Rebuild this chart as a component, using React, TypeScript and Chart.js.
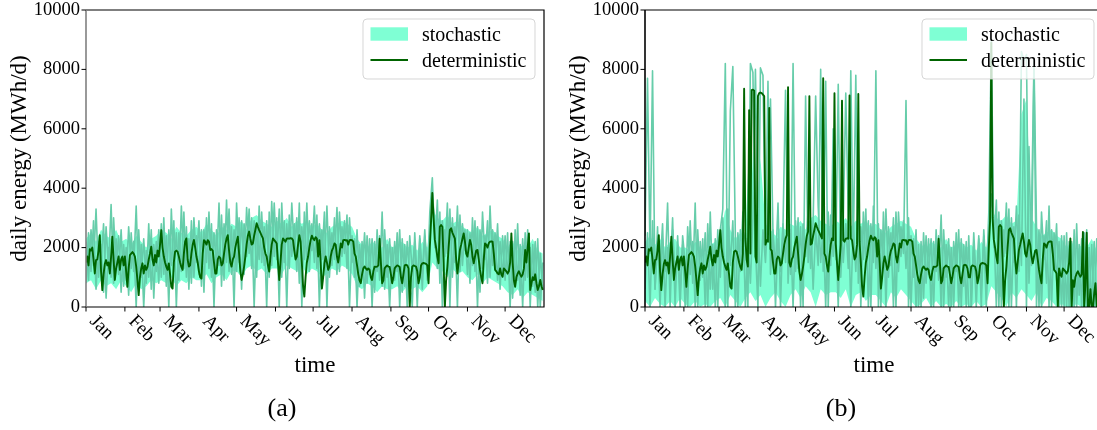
import React, { useEffect, useRef } from "react";
import { Chart, registerables } from "chart.js";

Chart.register(...registerables);

const FONT = "'Liberation Serif', 'Times New Roman', serif";

const MONTHS = ["Jan", "Feb", "Mar", "Apr", "May", "Jun", "Jul", "Aug", "Sep", "Oct", "Nov", "Dec"];
const MONTH_START_DAYS = [0, 31, 59, 90, 120, 151, 181, 212, 243, 273, 304, 334];
const Y_TICKS = [0, 2000, 4000, 6000, 8000, 10000];

// ---------- panel (a) ----------
const DET_A = [
  1500, 1700, 1400, 1950, 1900, 2000, 1600, 1130, 1580, 1600,
  1900, 2420, 1200, 570, 1100, 1450, 1580, 1400, 1500, 1130,
  1700, 2370, 1600, 910, 1300, 1500, 1700, 1250, 1600, 1700,
  1400, 1700, 1200, 680, 1300, 1750, 1800, 1850, 1800, 1700,
  1360, 900, 400, 1000, 1300, 1470, 1130, 1400, 1250, 1350,
  1600, 1800, 2030, 1600, 1400, 1750, 1500, 1900, 1700, 2100,
  2590, 2000, 1700, 1500, 1360, 1250, 1470, 1100, 680, 620,
  1500, 1860, 1900, 1860, 1700, 1500, 1350, 1250, 1800, 2200,
  2310, 1600, 1360, 1400, 1800, 2100, 2260, 2000, 1700, 1500,
  1200, 1000, 960, 1800, 2250, 2200, 2100, 2250, 2200, 1920,
  1950, 1900, 1500, 1130, 1130, 1600, 1700, 1650, 1400, 1470,
  1800, 2100, 2300, 2420, 1900, 1500, 1360, 1600, 1700, 2000,
  2200, 2370, 1800, 1200, 910, 1100, 1360, 1700, 2100, 2400,
  2540, 2300, 2100, 2140, 2400, 2600, 2820, 2700, 2590, 2500,
  2400, 2310, 2000, 1800, 1700, 1400, 1190, 1700, 2100, 2310,
  2250, 2200, 2140, 1500, 910, 1500, 2100, 2310, 2250, 2200,
  2300, 2310, 2300, 2320, 2310, 2250, 1900, 1600, 1700, 2100,
  2420, 2200, 1500, 700, 350, 1000, 1500, 1700, 2000, 2250,
  2400, 2300, 2250, 2350, 2300, 1700, 2250, 1500, 620, 1000,
  1470, 1700, 1500, 1250, 1360, 1700, 1900, 2000, 2140, 2100,
  1700, 1500, 1800, 2140, 2000, 2250, 2260, 2240, 2250, 2100,
  2250, 2260, 2250, 2200, 1800, 1700, 1400, 1100, 900, 800,
  1100, 1300, 1360, 1300, 1250, 1300, 1250, 1000, 910, 1200,
  1360, 1350, 1360, 1400, 2300, 1500, 800, 900, 1300, 1360,
  1400, 1360, 1350, 1100, 800, 1000, 1300, 1360, 1400, 1380,
  1350, 1000, 800, 1100, 1400, 1420, 1400, 1300, 0, 1000,
  1360, 1400, 1380, 1360, 1200, 800, 1000, 1400, 1470, 1480,
  1470, 1450, 1400, 800, 2000, 2900, 3840, 3000, 2260, 2000,
  1700, 1470, 2700, 2760, 2700, 1500, 0, 900, 1360, 2000,
  2600, 2650, 2500, 2400, 2300, 1600, 1130, 1500, 1920, 2100,
  2300, 2480, 2200, 1800, 1700, 2000, 2260, 2100, 1700, 1470,
  1700, 1900, 1920, 1600, 1250, 1000, 800, 1600, 2140, 2100,
  2000, 2150, 2200, 2210, 2200, 1800, 1250, 1200, 1130, 1100,
  1300, 1100, 1020, 1300, 1250, 1200, 1130, 1200, 1500, 2480,
  1500, 900, 680, 1000, 1130, 1200, 1100, 1020, 1100, 1300,
  1920, 1500, 2000, 2480, 570, 800, 1000, 910, 1100, 800,
  570, 700, 910, 700, 570,
];

// stochastic sample paths, one value every 2 days
const SAMPLE1_A = [
  2200, 900, 2600, 1400, 3300, 1000, 2100, 500, 2700, 1300, 3450, 800, 2300, 1100, 2600, 700,
  2000, 400, 2500, 1200, 3400, 700, 2100, 0, 1900, 1000, 2600, 300, 2200, 800,
  2800, 1100, 2400, 0, 3300, 1200, 2500, 900, 3400, 1300, 2700, 600, 2900, 1000, 2400,
  1100, 2600, 500, 3000, 1300, 2800, 0, 2600, 1400, 3100, 900, 3600, 1200, 2700, 0,
  3500, 1500, 2900, 1100, 3350, 1800, 3000, 0, 2800, 1600, 3200, 1400, 2900, 1000, 3550, 1700,
  3000, 0, 3500, 1500, 2800, 1300, 3500, 1900, 3000, 800, 2700, 1600, 3500, 1200, 2800,
  1500, 3100, 0, 2600, 1400, 3400, 1000, 2500, 1600, 3350, 1200, 2700, 1800, 3100, 0, 2400,
  1000, 2600, 700, 2200, 300, 2400, 1100, 2300, 500, 2600, 900, 3200, 600, 2100, 0,
  2000, 900, 2500, 0, 2300, 700, 2200, 1000, 0, 2500, 800, 2400, 1100, 2600, 900,
  3200, 4350, 2000, 3600, 800, 2900, 1700, 3500, 0, 3000, 1500, 3400, 1200, 2800, 1900,
  2600, 800, 3000, 1200, 2700, 500, 3200, 1600, 2900, 1000, 2600, 1300, 2800, 600, 2400,
  900, 2500, 0, 2200, 700, 2800, 400, 2300, 900, 2600, 0, 2100, 500, 2300, 0, 1500,
];
const SAMPLE2_A = [
  800, 2500, 1200, 2900, 600, 2200, 1500, 2800, 300, 2000, 1000, 3000, 1300, 2400, 500, 2100,
  900, 2700, 1300, 2200, 0, 2600, 1000, 2300, 800, 2800, 600, 2100, 1200, 2600,
  1000, 3000, 700, 2600, 1400, 2900, 0, 2500, 1200, 3200, 1000, 2300, 800, 3000, 1500,
  2900, 700, 2600, 1500, 3200, 1000, 2500, 1300, 3500, 700, 2800, 1500, 3300, 1100, 2600,
  1200, 3000, 600, 2800, 1700, 3300, 1300, 2900, 1000, 3400, 1500, 2700, 0, 3200, 1400, 3500,
  1600, 3300, 1000, 2900, 0, 3100, 1700, 2800, 1200, 3500, 0, 3200, 1500, 2900, 1900,
  3400, 1300, 2800, 1600, 3200, 0, 2700, 1400, 3000, 1100, 3200, 1700, 2900, 1300, 3000, 1500,
  2300, 0, 2100, 1100, 2500, 800, 2300, 0, 2200, 1200, 2400, 700, 2600, 1000, 2300,
  800, 2200, 1200, 2600, 500, 2100, 0, 2400, 1200, 2200, 0, 2300, 600, 2400, 1200,
  2400, 3800, 2700, 1300, 3200, 0, 2600, 1800, 3300, 1000, 2700, 0, 3100, 1400, 2600,
  1100, 2500, 1400, 2900, 0, 2600, 1300, 2400, 800, 3400, 1400, 2500, 900, 2200, 1000,
  2400, 1100, 2200, 300, 2600, 900, 2100, 0, 2500, 1000, 2000, 700, 2200, 0, 1800, 600,
];
// shaded band, one value every 4 days
const BAND_HI_A = [
  2300, 2500, 2200, 2600, 2400, 2300, 2600, 2200,
  2300, 2100, 2400, 2200, 2000, 2300, 2400,
  2600, 2500, 2300, 2700, 2500, 2400, 2600, 2700,
  2500, 2800, 2600, 2400, 2700, 2600, 2800,
  2700, 2900, 2600, 3000, 3100, 2900, 2800, 2700,
  2900, 2800, 3000, 2700, 2900, 2800, 2900, 2700,
  2800, 2600, 2500, 2700, 2800, 2900, 2800, 2700,
  2300, 2100, 2000, 2200, 2100, 2000, 2300,
  2000, 2100, 2200, 2000, 2100, 1900, 2200, 2000,
  3300, 3000, 2900, 3100, 2800, 2900, 2700,
  2600, 2500, 2700, 2400, 2500, 2600, 2400, 2300,
  2000, 2200, 1900, 2100, 2000, 2300, 1900, 1800,
];
const BAND_LO_A = [
  800, 900, 600, 900, 700, 800, 600, 900,
  700, 500, 800, 600, 700, 900, 800,
  900, 800, 1000, 700, 900, 800, 1000, 900,
  900, 1100, 800, 1000, 1100, 900, 1200,
  1200, 1000, 1300, 1400, 1200, 1300, 1100, 1300,
  1300, 1100, 1400, 1300, 1200, 1400, 1100, 1300,
  1200, 1000, 1100, 1300, 1200, 1400, 1300, 1100,
  700, 600, 800, 700, 500, 700, 600,
  600, 700, 500, 700, 600, 700, 500, 700,
  1500, 1300, 1200, 1000, 1300, 1100, 1200,
  1000, 900, 1100, 800, 1000, 900, 800, 700,
  500, 400, 600, 300, 500, 400, 300, 200,
];

// ---------- panel (b) ----------
const DET_B = [
  1500, 1700, 1400, 1950, 1900, 2000, 1600, 1130, 1580, 1600,
  1900, 2420, 1200, 570, 1100, 1450, 1580, 1400, 1500, 1130,
  1700, 2370, 1600, 910, 1300, 1500, 1700, 1250, 1600, 1700,
  1400, 1700, 1200, 680, 1300, 1750, 1800, 1850, 1800, 1700,
  1360, 900, 400, 1000, 1300, 1470, 1130, 1400, 1250, 1350,
  1600, 1800, 2030, 1600, 1400, 1750, 1500, 1900, 1700, 2100,
  2590, 2000, 1700, 1500, 1360, 1250, 1470, 1100, 680, 620,
  1500, 1860, 1900, 1860, 1700, 1500, 1350, 1250, 1800, 7350,
  2310, 1600, 1360, 6630, 1800, 7300, 7320, 7280, 1700, 1500,
  7100, 7200, 7220, 7200, 7150, 7100, 2100, 2250, 2200, 6700,
  1950, 1900, 1500, 1130, 1130, 1600, 1700, 1650, 1400, 1470,
  1800, 2100, 2300, 2420, 7400, 1500, 1360, 1600, 1700, 2000,
  2200, 2370, 1800, 1200, 910, 1100, 1360, 1700, 2100, 2400,
  2540, 7100, 2100, 2140, 2400, 2600, 2820, 2700, 2590, 2500,
  2400, 2310, 7700, 1800, 1700, 1400, 1190, 1700, 2100, 2310,
  2250, 7200, 2140, 1500, 910, 1500, 2100, 6950, 2250, 2200,
  2300, 2310, 2300, 7120, 2310, 2250, 1900, 1600, 1700, 2100,
  7170, 2200, 1500, 700, 350, 1000, 1500, 1700, 2000, 2250,
  2400, 2300, 2250, 2350, 2300, 1700, 2250, 1500, 620, 1000,
  1470, 1700, 1500, 1250, 1360, 1700, 1900, 2000, 2140, 2100,
  1700, 1500, 1800, 2140, 2000, 2250, 2260, 2240, 2250, 2100,
  2250, 2260, 2250, 2200, 1800, 1700, 1400, 1100, 900, 800,
  1100, 1300, 1360, 1300, 1250, 1300, 1250, 1000, 910, 1200,
  1360, 1350, 1360, 1400, 2300, 1500, 800, 900, 1300, 1360,
  1400, 1360, 1350, 1100, 800, 1000, 1300, 1360, 1400, 1380,
  1350, 1000, 800, 1100, 1400, 1420, 1400, 1300, 1000, 1000,
  1360, 1400, 1380, 1360, 1200, 800, 1000, 1400, 1470, 1480,
  1470, 1450, 1400, 800, 2000, 2900, 8900, 3000, 2260, 2000,
  1700, 1470, 2700, 2760, 2700, 1500, 0, 900, 1360, 2000,
  2600, 2650, 2500, 2400, 2300, 1600, 1130, 1500, 1920, 2100,
  2300, 2480, 2200, 1800, 1700, 2000, 2260, 2100, 1700, 1470,
  1700, 1900, 1920, 1600, 1250, 1000, 800, 1600, 2140, 2100,
  2000, 2150, 2200, 2210, 2200, 1800, 1250, 1200, 1130, 0,
  1300, 1100, 1020, 1300, 1250, 1200, 1130, 1200, 1500, 2310,
  0, 900, 680, 1000, 1130, 1200, 1100, 1020, 1100, 2530,
  0, 800, 2500, 0, 0, 600, 0, 0, 470, 800,
  0, 0, 500, 0, 400,
];
const SAMPLE1_B = [
  2400, 7700, 1800, 7950, 600, 2700, 0, 2300, 1200, 3500, 0, 2600, 900, 2000, 0, 2400,
  1500, 0, 2900, 800, 3500, 0, 2200, 1000, 2500, 0, 3200, 600, 2300, 0,
  2600, 3300, 8200, 0, 6600, 8100, 2400, 0, 2600, 1900, 2500, 0, 8200, 7900, 2000,
  0, 8050, 7800, 2000, 7600, 1100, 2600, 0, 2300, 1200, 2800, 7300, 800, 2600, 0,
  2900, 1300, 2700, 0, 7100, 1500, 2900, 600, 2600, 1400, 8000, 1200, 7600, 0, 3100, 1700,
  2600, 0, 3200, 1500, 2800, 1300, 7950, 1900, 7800, 800, 2700, 1600, 3300, 0, 2800,
  1500, 7950, 0, 2600, 1400, 3300, 1000, 2500, 0, 3200, 1200, 2700, 1800, 6950, 0, 2400,
  1000, 2600, 0, 2200, 300, 2400, 1100, 2300, 0, 2600, 900, 3100, 0, 2100, 0,
  2000, 0, 2500, 0, 2300, 700, 2200, 0, 0, 2500, 800, 2400, 0, 2600, 900,
  3200, 9000, 2000, 3600, 0, 2900, 1700, 3500, 0, 3000, 1500, 3400, 1200, 8600, 8300,
  8500, 800, 3000, 8300, 2700, 0, 3200, 1600, 2900, 0, 2600, 1300, 2800, 0, 2400,
  0, 2500, 0, 2200, 0, 2800, 400, 2300, 0, 2600, 0, 2100, 0, 2300, 0, 1500,
];
const SAMPLE2_B = [
  600, 2500, 0, 2900, 600, 2200, 1300, 2800, 0, 2000, 1000, 3000, 0, 2400, 500, 2100,
  0, 2700, 1100, 2200, 0, 2600, 900, 2300, 0, 2800, 600, 2100, 0, 2600,
  1000, 3000, 0, 3300, 1400, 2900, 0, 2500, 1200, 3200, 0, 2300, 800, 3000, 8000,
  2900, 700, 2600, 1500, 3200, 7000, 2500, 1300, 3500, 0, 2800, 1500, 3300, 1100, 8200,
  1200, 3000, 0, 2800, 1700, 3300, 1300, 2900, 7100, 3400, 1500, 2700, 0, 3200, 1400, 6000,
  1600, 7500, 1000, 2900, 7200, 3100, 0, 2800, 1200, 3500, 0, 3200, 1500, 2900, 0,
  3400, 1300, 2800, 0, 3200, 0, 2700, 1400, 3000, 0, 3200, 1700, 2900, 1300, 3000, 0,
  2300, 0, 2100, 0, 2500, 800, 2300, 0, 2200, 1200, 2400, 0, 2600, 1000, 2300,
  0, 2200, 1200, 2600, 0, 2100, 0, 2400, 0, 2200, 0, 2300, 600, 2400, 0,
  2400, 3800, 2700, 0, 3200, 0, 2600, 1800, 3300, 0, 2700, 0, 3100, 1400, 7000,
  0, 5400, 1400, 8000, 0, 2600, 0, 2400, 800, 3400, 0, 2500, 900, 2200, 0,
  2400, 0, 2200, 0, 2600, 0, 2100, 0, 2500, 0, 2000, 0, 2200, 0, 1800, 0,
];
const BAND_HI_B = [
  2200, 2400, 2100, 2300, 2000, 2200, 2300, 2000,
  2000, 1900, 2200, 2000, 1800, 2100, 2200,
  2400, 3300, 2600, 2300, 2500, 2400, 6500, 2600,
  5000, 2800, 2600, 2400, 2700, 2600, 2800,
  2700, 2900, 2600, 3000, 3100, 2900, 2800, 2700,
  2900, 2800, 3000, 2700, 2900, 2800, 2900, 2700,
  2800, 2600, 2500, 2700, 2800, 2900, 2800, 2700,
  2300, 2100, 2000, 2200, 2100, 2000, 2300,
  2000, 2100, 2200, 2000, 2100, 1900, 2200, 2000,
  3300, 3000, 2900, 3100, 2800, 2900, 6500,
  7000, 3000, 2700, 2400, 2500, 2600, 2400, 2300,
  2000, 2200, 1900, 2100, 2000, 2300, 1900, 1800,
];
const BAND_LO_B = [
  200, 0, 300, 100, 0, 200, 0, 300,
  100, 0, 200, 0, 100, 0, 200,
  300, 0, 400, 200, 0, 300, 500, 200,
  400, 0, 300, 500, 200, 0, 400,
  600, 300, 700, 500, 0, 600, 400, 500,
  500, 300, 600, 0, 400, 500, 200, 400,
  400, 200, 0, 500, 300, 600, 400, 200,
  0, 100, 300, 0, 200, 0, 100,
  0, 200, 0, 100, 0, 200, 0, 100,
  700, 500, 300, 0, 500, 300, 600,
  400, 200, 500, 0, 300, 200, 0, 100,
  0, 0, 100, 0, 0, 100, 0, 0,
];

const AQUA = "#7FFFD4";
const MED_AQUA = "#66CDAA";
const DARK_GREEN = "#006400";

function pts(values: number[], step: number) {
  return values.map((v, i) => ({ x: i * step, y: v }));
}

function roundRect(ctx: CanvasRenderingContext2D, x: number, y: number, w: number, h: number, r: number) {
  ctx.beginPath();
  ctx.moveTo(x + r, y);
  ctx.lineTo(x + w - r, y);
  ctx.arcTo(x + w, y, x + w, y + r, r);
  ctx.lineTo(x + w, y + h - r);
  ctx.arcTo(x + w, y + h, x + w - r, y + h, r);
  ctx.lineTo(x + r, y + h);
  ctx.arcTo(x, y + h, x, y + h - r, r);
  ctx.lineTo(x, y + r);
  ctx.arcTo(x, y, x + r, y, r);
  ctx.closePath();
}

function makeDecor(caption: string, leftSpine: string) {
  return {
    id: "decor",
    afterDraw(chart: any) {
      const { ctx, chartArea, scales } = chart;
      const { left, right, top, bottom } = chartArea;
      const xs = scales.x;
      const ys = scales.y;
      ctx.save();
      // spines
      ctx.lineWidth = 1.2;
      ctx.strokeStyle = "#000";
      ctx.beginPath();
      ctx.moveTo(left, top);
      ctx.lineTo(right, top);
      ctx.lineTo(right, bottom);
      ctx.lineTo(left, bottom);
      ctx.stroke();
      ctx.strokeStyle = leftSpine;
      ctx.lineWidth = 1.6;
      ctx.beginPath();
      ctx.moveTo(left, top);
      ctx.lineTo(left, bottom);
      ctx.stroke();

      // y ticks
      ctx.strokeStyle = "#000";
      ctx.fillStyle = "#000";
      ctx.lineWidth = 1;
      ctx.font = `18.5px ${FONT}`;
      ctx.textAlign = "right";
      ctx.textBaseline = "middle";
      Y_TICKS.forEach((v) => {
        const py = ys.getPixelForValue(v);
        ctx.beginPath();
        ctx.moveTo(left - 4.5, py);
        ctx.lineTo(left, py);
        ctx.stroke();
        ctx.fillText(String(v), left - 6, py);
      });

      // x ticks
      ctx.font = `19px ${FONT}`;
      ctx.textAlign = "left";
      ctx.textBaseline = "alphabetic";
      MONTH_START_DAYS.forEach((d, i) => {
        const px = xs.getPixelForValue(d);
        ctx.beginPath();
        ctx.moveTo(px, bottom);
        ctx.lineTo(px, bottom + 4.5);
        ctx.stroke();
        ctx.save();
        ctx.translate(px + 3, bottom + 15);
        ctx.rotate(Math.PI / 4);
        ctx.fillText(MONTHS[i], 0, 0);
        ctx.restore();
      });

      // axis titles
      const cx = (left + right) / 2;
      ctx.font = `23px ${FONT}`;
      ctx.textAlign = "center";
      ctx.textBaseline = "alphabetic";
      ctx.fillText("time", cx, 372);
      ctx.save();
      ctx.translate(left - 66, (top + bottom) / 2);
      ctx.rotate(-Math.PI / 2);
      ctx.textBaseline = "middle";
      ctx.fillText("daily energy (MWh/d)", 0, 0);
      ctx.restore();

      // caption
      ctx.font = `26px ${FONT}`;
      ctx.textAlign = "center";
      ctx.textBaseline = "alphabetic";
      ctx.fillText(caption, cx - 33, 416);

      // legend
      const bw = 172;
      const bh = 60;
      const bx = right - 9 - bw;
      const by = top + 9;
      roundRect(ctx, bx, by, bw, bh, 4);
      ctx.fillStyle = "rgba(255,255,255,0.8)";
      ctx.fill();
      ctx.strokeStyle = "rgba(204,204,204,0.8)";
      ctx.lineWidth = 1;
      ctx.stroke();
      ctx.fillStyle = AQUA;
      ctx.fillRect(bx + 7.5, by + 8.3, 37.5, 13.4);
      ctx.strokeStyle = DARK_GREEN;
      ctx.lineWidth = 1.8;
      ctx.beginPath();
      ctx.moveTo(bx + 7.5, by + 41);
      ctx.lineTo(bx + 45, by + 41);
      ctx.stroke();
      ctx.fillStyle = "#000";
      ctx.font = `20px ${FONT}`;
      ctx.textAlign = "left";
      ctx.fillText("stochastic", bx + 59, by + 21.5);
      ctx.fillText("deterministic", bx + 59, by + 48);
      ctx.restore();
    },
  };
}

type PanelProps = {
  left: number;
  padLeft: number;
  padRight: number;
  caption: string;
  leftSpine: string;
  det: number[];
  s1: number[];
  s2: number[];
  lo: number[];
  hi: number[];
};

function Panel(p: PanelProps) {
  const ref = useRef<HTMLCanvasElement>(null);
  useEffect(() => {
    const chart = new Chart(ref.current as HTMLCanvasElement, {
      type: "line",
      data: {
        datasets: [
          { data: pts(p.lo, 4), borderWidth: 0, fill: false, pointRadius: 0, order: 3 },
          { data: pts(p.hi, 4), borderWidth: 0, fill: "-1", backgroundColor: AQUA, pointRadius: 0, order: 3 },
          { data: pts(p.s1, 2), borderColor: MED_AQUA, borderWidth: 1.6, fill: false, pointRadius: 0, order: 2, borderJoinStyle: "round" },
          { data: pts(p.s2, 2), borderColor: MED_AQUA, borderWidth: 1.6, fill: false, pointRadius: 0, order: 2, borderJoinStyle: "round" },
          { data: pts(p.det, 1), borderColor: DARK_GREEN, borderWidth: 1.9, fill: false, pointRadius: 0, order: 1, borderJoinStyle: "round" },
        ] as any,
      },
      options: {
        responsive: false,
        animation: false,
        events: [],
        layout: { padding: { left: p.padLeft, right: p.padRight, top: 10, bottom: 123 } },
        plugins: { legend: { display: false }, tooltip: { enabled: false } },
        scales: {
          x: { type: "linear", display: false, min: 0, max: 365 },
          y: { type: "linear", display: false, min: 0, max: 10000 },
        },
        elements: { point: { radius: 0 }, line: { tension: 0 } },
      },
      plugins: [makeDecor(p.caption, p.leftSpine)],
    });
    return () => chart.destroy();
  }, []);
  return (
    <canvas
      ref={ref}
      width={560}
      height={430}
      style={{ position: "absolute", left: p.left, top: 0, width: 560, height: 430 }}
    />
  );
}

export default function App() {
  return (
    <div style={{ position: "absolute", left: 0, top: 0, width: 1097, height: 430, overflow: "hidden", background: "#fff" }}>
      <Panel left={0} padLeft={86} padRight={16} caption="(a)" leftSpine="#808080"
        det={DET_A} s1={SAMPLE1_A} s2={SAMPLE2_A} lo={BAND_LO_A} hi={BAND_HI_A} />
      <Panel left={560} padLeft={85} padRight={17} caption="(b)" leftSpine="#000"
        det={DET_B} s1={SAMPLE1_B} s2={SAMPLE2_B} lo={BAND_LO_B} hi={BAND_HI_B} />
    </div>
  );
}
